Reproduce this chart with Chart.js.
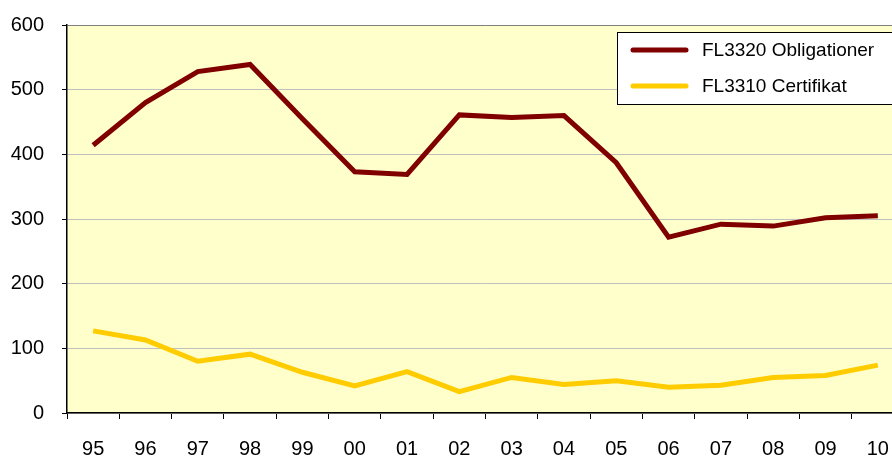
<!DOCTYPE html>
<html>
<head>
<meta charset="utf-8">
<script src="https://cdn.jsdelivr.net/npm/chart.js@4"></script>
<style>
  html, body { margin: 0; padding: 0; background: #fff; overflow: hidden; }
  #wrap { width: 905px; height: 457px; }
</style>
</head>
<body>
<div id="wrap"><canvas id="c" width="905" height="457"></canvas></div>
<script>
// ── Data ──────────────────────────────────────────────────────────────────────
const YEARS = ['95', '96', '97', '98', '99', '00', '01', '02', '03', '04', '05', '06', '07', '08', '09', '10'];
const OBLIGATIONER = [414, 480, 528, 539, 455, 373, 369, 461, 457, 460, 387, 272, 292, 289, 302, 305];
const CERTIFIKAT = [127, 113, 80, 91, 63, 42, 64, 33, 55, 44, 50, 40, 43, 55, 58, 74];
const SERIES_LABELS = ['FL3320 Obligationer', 'FL3310 Certifikat'];
const COLORS = ['#800000', '#FFCC00'];

const FONT = 'Liberation Sans, Arial, sans-serif';

// ── Plugins ───────────────────────────────────────────────────────────────────

// pale yellow plot background
const plotBg = {
  id: 'plotBg',
  beforeDraw(chart) {
    const { ctx, chartArea: a } = chart;
    ctx.save();
    ctx.fillStyle = '#FFFFCC';
    ctx.fillRect(a.left, a.top, a.right - a.left, a.bottom - a.top);
    ctx.restore();
  }
};

// boxed legend inside the plot, top right
const boxLegend = {
  id: 'boxLegend',
  afterDraw(chart) {
    const { ctx } = chart;
    const x = 617, y = 32, w = 290, h = 72;
    ctx.save();
    ctx.fillStyle = '#fff';
    ctx.fillRect(x, y, w, h);
    ctx.strokeStyle = '#000';
    ctx.lineWidth = 1;
    ctx.strokeRect(x + 0.5, y + 0.5, w, h);
    ctx.font = '19px ' + FONT;
    ctx.textBaseline = 'middle';
    chart.data.datasets.forEach((ds, i) => {
      const ly = 50 + i * 36;
      ctx.strokeStyle = ds.borderColor;
      ctx.lineWidth = 5;
      ctx.lineCap = 'round';
      ctx.beginPath();
      ctx.moveTo(633, ly);
      ctx.lineTo(686, ly);
      ctx.stroke();
      ctx.fillStyle = '#000';
      ctx.fillText(ds.label, 702, ly + 1);
    });
    ctx.restore();
  }
};

// ── Chart ─────────────────────────────────────────────────────────────────────

const mkDataset = (label, values, color) => ({
  label,
  data: values,
  borderColor: color,
  backgroundColor: color,
  borderWidth: 5,
  pointRadius: 0,
  fill: false,
  tension: 0,
  borderJoinStyle: 'miter',
});

new Chart(document.getElementById('c'), {
  type: 'line',
  data: {
    labels: YEARS,
    datasets: [
      mkDataset(SERIES_LABELS[0], OBLIGATIONER, COLORS[0]),
      mkDataset(SERIES_LABELS[1], CERTIFIKAT, COLORS[1]),
    ],
  },
  options: {
    responsive: false,
    animation: false,
    devicePixelRatio: 1,
    layout: { padding: { top: 25, right: 1, bottom: 0, left: 0 } },
    plugins: {
      legend: { display: false },
      tooltip: { enabled: false },
    },
    scales: {
      x: {
        type: 'category',
        offset: true,
        afterFit: s => { s.height = 44; s.paddingLeft = 0; s.paddingRight = 0; },
        grid: {
          offset: true,
          drawOnChartArea: false,
          drawTicks: true,
          tickLength: 6,
          tickColor: '#000',
        },
        border: { color: '#000', width: 1.5 },
        ticks: { color: '#000', padding: 18, font: { family: FONT, size: 20 }, maxRotation: 0, autoSkip: false },
      },
      y: {
        min: 0,
        max: 600,
        afterFit: s => { s.width = 67; s.paddingTop = 0; s.paddingBottom = 0; },
        grid: {
          color: ctx => (ctx.tick && ctx.tick.value === 600 ? '#808080' : '#C0C0C0'),
          tickColor: '#000',
          tickLength: 5,
        },
        border: { color: '#000', width: 1.5 },
        ticks: { stepSize: 100, color: '#000', padding: 18, font: { family: FONT, size: 20 } },
      },
    },
  },
  plugins: [plotBg, boxLegend],
});
</script>
</body>
</html>
